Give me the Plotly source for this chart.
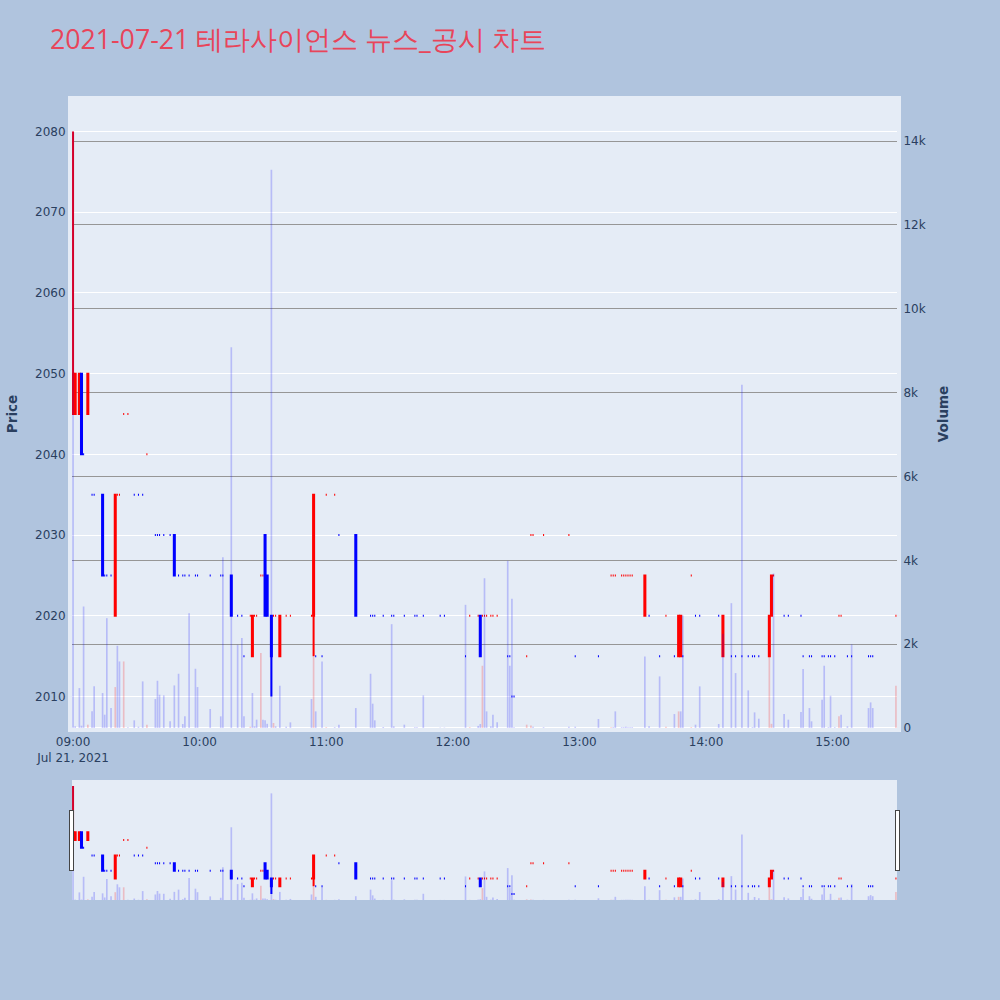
import plotly.graph_objects as go
from plotly.subplots import make_subplots
import pandas as pd

# Minute bars (time, open, high, low, close, volume)
times = ["09:00","09:01","09:03","09:04","09:05","09:07","09:09","09:10","09:14","09:15",
         "09:16","09:18","09:20","09:21","09:22","09:24","09:26","09:29","09:31","09:33",
         "09:35","09:39","09:40","09:41","09:43","09:46","09:48","09:50","09:52","09:53",
         "09:55","09:58","09:59","10:05","10:10","10:11","10:15","10:18","10:20","10:21",
         "10:24","10:25","10:26","10:27","10:29","10:30","10:31","10:32","10:34","10:35",
         "10:36","10:38","10:41","10:43","10:53","10:54","10:55","10:58","11:00","11:04",
         "11:06","11:14","11:21","11:22","11:23","11:27","11:31","11:32","11:37","11:42",
         "11:43","11:46","11:54","11:56","12:06","12:08","12:12","12:13","12:14","12:15",
         "12:16","12:18","12:19","12:21","12:26","12:27","12:28","12:29","12:35","12:37",
         "12:38","12:43","12:55","12:58","13:09","13:15","13:16","13:17","13:20","13:21",
         "13:22","13:23","13:24","13:25","13:31","13:33","13:38","13:41","13:45","13:47",
         "13:48","13:49","13:53","13:55","13:57","14:06","14:08","14:12","14:14","14:17",
         "14:20","14:22","14:23","14:25","14:30","14:31","14:32","14:37","14:39","14:45",
         "14:46","14:49","14:50","14:55","14:56","14:58","14:59","15:01","15:03","15:04",
         "15:07","15:09","15:17","15:18","15:19","15:30"]
opens = [2045,2045,2045,2050,2040,2045,2035,2035,2035,2025,
         2025,2025,2020,2035,2035,2045,2045,2035,2035,2035,
         2040,2030,2030,2030,2030,2030,2030,2025,2025,2025,
         2025,2025,2025,2025,2025,2025,2025,2020,2020,2015,
         2020,2015,2020,2020,2025,2025,2030,2025,2020,2020,
         2020,2015,2020,2020,2020,2020,2015,2015,2035,2035,
         2030,2030,2020,2020,2020,2020,2020,2020,2020,2020,
         2020,2020,2020,2020,2015,2020,2020,2020,2020,2020,
         2020,2020,2020,2020,2015,2015,2010,2010,2015,2030,
         2030,2030,2030,2015,2015,2025,2025,2025,2025,2025,
         2025,2025,2025,2025,2020,2020,2015,2020,2015,2015,
         2015,2015,2025,2020,2020,2020,2015,2015,2015,2015,
         2015,2015,2015,2015,2015,2020,2025,2020,2020,2020,
         2015,2015,2015,2015,2015,2015,2015,2015,2020,2020,
         2015,2015,2015,2015,2015,2020]
highs = [2080,2050,2050,2050,2040,2050,2035,2035,2035,2025,
         2025,2025,2035,2035,2035,2045,2045,2035,2035,2035,
         2040,2030,2030,2030,2030,2030,2030,2025,2025,2025,
         2025,2025,2025,2025,2025,2025,2025,2020,2020,2015,
         2020,2020,2020,2020,2025,2025,2030,2025,2020,2020,
         2020,2020,2020,2020,2020,2035,2015,2015,2035,2035,
         2030,2030,2020,2020,2020,2020,2020,2020,2020,2020,
         2020,2020,2020,2020,2015,2020,2020,2020,2020,2020,
         2020,2020,2020,2020,2015,2015,2010,2010,2015,2030,
         2030,2030,2030,2015,2015,2025,2025,2025,2025,2025,
         2025,2025,2025,2025,2025,2020,2015,2020,2015,2020,
         2020,2015,2025,2020,2020,2020,2020,2015,2015,2015,
         2015,2015,2015,2015,2020,2025,2025,2020,2020,2020,
         2015,2015,2015,2015,2015,2015,2015,2015,2020,2020,
         2015,2015,2015,2015,2015,2020]
lows = [2045,2045,2045,2040,2040,2045,2035,2035,2025,2025,
        2025,2025,2020,2035,2035,2045,2045,2035,2035,2035,
        2040,2030,2030,2030,2030,2030,2025,2025,2025,2025,
        2025,2025,2025,2025,2025,2025,2020,2020,2020,2015,
        2020,2015,2020,2020,2025,2025,2020,2020,2010,2020,
        2020,2015,2020,2020,2020,2015,2015,2015,2035,2035,
        2030,2020,2020,2020,2020,2020,2020,2020,2020,2020,
        2020,2020,2020,2020,2015,2020,2020,2015,2020,2020,
        2020,2020,2020,2020,2015,2015,2010,2010,2015,2030,
        2030,2030,2030,2015,2015,2025,2025,2025,2025,2025,
        2025,2025,2025,2025,2020,2020,2015,2020,2015,2015,
        2015,2015,2025,2020,2020,2020,2015,2015,2015,2015,
        2015,2015,2015,2015,2015,2020,2025,2020,2020,2020,
        2015,2015,2015,2015,2015,2015,2015,2015,2020,2020,
        2015,2015,2015,2015,2015,2020]
closes = [2050,2050,2050,2040,2040,2050,2035,2035,2025,2025,
          2025,2025,2035,2035,2035,2045,2045,2035,2035,2035,
          2040,2030,2030,2030,2030,2030,2025,2025,2025,2025,
          2025,2025,2025,2025,2025,2025,2020,2020,2020,2015,
          2020,2020,2020,2020,2025,2025,2020,2020,2015,2020,
          2020,2020,2020,2020,2020,2035,2015,2015,2035,2035,
          2030,2020,2020,2020,2020,2020,2020,2020,2020,2020,
          2020,2020,2020,2020,2015,2020,2020,2015,2020,2020,
          2020,2020,2020,2020,2015,2015,2010,2010,2015,2030,
          2030,2030,2030,2015,2015,2025,2025,2025,2025,2025,
          2025,2025,2025,2025,2025,2020,2015,2020,2015,2020,
          2020,2015,2025,2020,2020,2020,2020,2015,2015,2015,
          2015,2015,2015,2015,2020,2025,2025,2020,2020,2020,
          2015,2015,2015,2015,2015,2015,2015,2015,2020,2020,
          2015,2015,2015,2015,2015,2020]
volumes = [14230,40,953,55,2898,80,397,993,834,318,
           2620,476,977,1961,1588,1588,16,183,30,1112,
           80,691,1127,794,778,159,1016,1294,95,278,
           2739,1413,977,453,278,4073,9080,1985,2144,278,
           30,834,40,199,1787,199,183,100,13313,119,
           40,1008,30,135,691,1707,397,1588,20,20,
           80,476,1294,580,183,24,2477,40,80,16,
           16,778,10,10,2938,20,50,95,1485,3573,
           397,40,318,135,3986,1485,3081,16,80,60,
           30,20,30,30,214,20,20,397,20,20,
           30,20,20,20,1707,40,1231,30,333,397,
           397,2684,20,80,993,95,2247,2978,1310,8190,
           897,20,373,222,1707,100,3686,333,199,381,
           1405,476,159,675,1485,20,770,20,278,318,
           40,1994,476,611,476,1008]

x = pd.to_datetime(["2021-07-21 " + t for t in times])

# volume colour: up (red) when close rises vs previous close, otherwise blue
vol_colors = []
prev = None
for c in closes:
    if prev is not None and c > prev:
        vol_colors.append("rgba(255,0,0,0.2)")
    else:
        vol_colors.append("rgba(0,0,255,0.2)")
    prev = c

fig = make_subplots(specs=[[{"secondary_y": True}]])
fig.add_trace(go.Candlestick(
    x=x, open=opens, high=highs, low=lows, close=closes,
    increasing=dict(line=dict(color="red"), fillcolor="red"),
    decreasing=dict(line=dict(color="blue"), fillcolor="blue"),
    showlegend=False, name="Price"), secondary_y=False)
fig.add_trace(go.Bar(x=x, y=volumes, marker=dict(color=vol_colors, line=dict(width=0)),
                     showlegend=False, name="Volume"), secondary_y=True)

tick_font = dict(family="DejaVu Sans", size=12)
axis_title_font = dict(family="DejaVu Sans", size=13.5)

fig.update_layout(
    width=1000, height=1000,
    paper_bgcolor="#B0C4DE",
    title=dict(text="2021-07-21 테라사이언스 뉴스_공시 차트", x=0.05, y=0.96, yanchor="middle",
               font=dict(size=26.7, color="#E8455A")),
    margin=dict(l=72, r=103, t=100, b=100),
    showlegend=False,
)
fig.update_xaxes(domain=[0, 1], showgrid=False, showline=True, linewidth=4, linecolor="#E5ECF6",
                 mirror=True, tickfont=tick_font, rangeslider=dict(visible=True))
fig.update_yaxes(showline=True, linewidth=4, linecolor="#E5ECF6", mirror=True,
                 automargin=False, tickfont=tick_font, title_font=axis_title_font)
fig.update_yaxes(title_text="<b>Price</b>", secondary_y=False)
fig.update_yaxes(title_text="<b>Volume</b>", secondary_y=True, showgrid=True,
                 gridcolor="rgb(150,150,150)")

fig.write_html("out.html", config={"displayModeBar": False},
               post_script="document.body.style.margin='0px';")
